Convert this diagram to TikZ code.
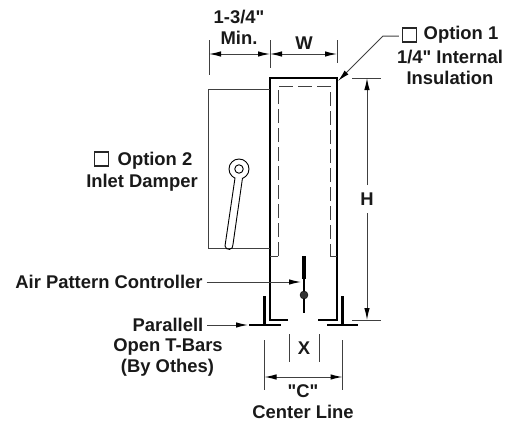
\documentclass[tikz,border=0pt]{standalone}
\usepackage{fontspec}
\newfontfamily\labelfont{Liberation Sans}
\usepackage{xcolor}
\usetikzlibrary{arrows.meta}
\definecolor{wire}{gray}{0.25}
\tikzset{
  label/.style={font=\labelfont\fontsize{18.4}{21.2}\selectfont\bfseries,align=center,text=black!90,inner sep=0pt},
  thin line/.style={wire,line width=1pt},
  wall/.style={black,line width=1.9pt},
  dim/.style={<->,wire,line width=1pt},
  lead/.style={->,wire,line width=1pt},
  check/.style={draw=black!85,line width=1.1pt,minimum size=14pt,inner sep=0pt},
  >={Latex[length=12pt,width=5.5pt,color=black]}
}
\begin{document}
\begin{tikzpicture}[x=1pt,y=-1pt]
\useasboundingbox (0,0) rectangle (515,423);
% labels
\node (A) at (239,27.5) [label] {1-3/4"\\Min.};
\node (B) at (304,43) [label] {W};
\node (C) at (461,35) [label] {Option 1};
\node (D) at (409.5,35) [check] {};
\node (E) at (450,67.5) [label] {1/4" Internal\\Insulation};
\node (F) at (155,161) [label] {Option 2};
\node (G) at (101.5,159) [check] {};
\node (H) at (142,182.5) [label] {Inlet Damper};
\node (I) at (109,281.5) [label] {Air Pattern Controller};
\node (J) at (168,325) [label] {Parallell};
\node (K) at (168,346.5) [label] {Open T-Bars};
\node (L) at (167.5,368) [label] {(By Othes)};
\node (M) at (304,348) [label] {X};
\node (N) at (303,401.5) [label] {"C"\\Center Line};
\node (P) at (367,199) [label] {H};
% housing
\coordinate (a1) at (288,320);
\coordinate (a2) at (270,320);
\coordinate (a3) at (270,78);
\coordinate (a4) at (337,78);
\coordinate (a5) at (337,320);
\coordinate (a6) at (318,320);
\draw[wall,line join=miter] (a1) -- (a2) -- (a3) -- (a4) -- (a5) -- (a6);
% insulation
\coordinate (b1) at (270,256);
\coordinate (b2) at (278,256);
\coordinate (b3) at (278,86);
\coordinate (b4) at (330,86);
\coordinate (b5) at (330,256);
\coordinate (b6) at (337,256);
\draw[thin line,dash pattern=on 14pt off 5pt] (b2) -- (b3) -- (b4) -- (b5);
\draw[thin line] (b1) -- (b2);
\draw[thin line] (b5) -- (b6);
% damper
\coordinate (c1) at (270,89);
\coordinate (c2) at (208,89);
\coordinate (c3) at (208,248);
\coordinate (c4) at (270,248);
\draw[thin line] (c1) -- (c2) -- (c3) -- (c4);
\node (Q) at (239,169) [circle,draw=black,line width=0.9pt,minimum size=20pt,inner sep=0pt] {};
\node (R) at (239,169) [circle,draw=black,line width=0.9pt,minimum size=8.5pt,inner sep=0pt] {};
\coordinate (d1) at (235,178);
\coordinate (d2) at (225,246);
\coordinate (d3) at (233,247);
\coordinate (d4) at (242.5,178);
\fill[white] (d1) -- (d2) -- (d3) -- (d4) -- cycle;
\draw[black,line width=0.9pt] (d1) -- (d2) arc[start angle=188,end angle=368,radius=4pt] -- (d4);
% t-bars
\coordinate (e1) at (249,325);
\coordinate (e2) at (281,325);
\coordinate (e3) at (264.5,296);
\coordinate (e4) at (264.5,325);
\coordinate (e5) at (327,325);
\coordinate (e6) at (358,325);
\coordinate (e7) at (342.5,296);
\coordinate (e8) at (342.5,325);
\draw[black,line width=2.8pt] (e1) -- (e2);
\draw[black,line width=2.8pt] (e3) -- (e4);
\draw[black,line width=2.8pt] (e5) -- (e6);
\draw[black,line width=2.8pt] (e7) -- (e8);
% controller
\coordinate (f1) at (304,256);
\coordinate (f2) at (304,279);
\coordinate (f3) at (304,313);
\draw[black,line width=3.8pt] (f1) -- (f2);
\draw[black,line width=1.6pt] (f2) -- (f3);
\node (S) at (304,295) [circle,fill=black!80,draw=black,minimum size=8pt,inner sep=0pt] {};
% dimensions
\coordinate (g1) at (209,40);
\coordinate (g2) at (209,75);
\coordinate (g3) at (270,40);
\coordinate (g4) at (270,68);
\coordinate (g5) at (337,40);
\coordinate (g6) at (337,63);
\draw[thin line] (g1) -- (g2);
\draw[thin line] (g3) -- (g4);
\draw[thin line] (g5) -- (g6);
\coordinate (h1) at (209,54);
\coordinate (h2) at (270,54);
\coordinate (h3) at (337,54);
\draw[dim] (h1) -- (h2);
\draw[dim] (h2) -- (h3);
\coordinate (i1) at (352,78);
\coordinate (i2) at (381,78);
\coordinate (i3) at (352,320);
\coordinate (i4) at (381,320);
\coordinate (i5) at (367,78);
\coordinate (i6) at (367,320);
\draw[thin line] (i1) -- (i2);
\draw[thin line] (i3) -- (i4);
\draw[lead] (P) ++(0,-14) -- (i5);
\draw[lead] (P) ++(0,14) -- (i6);
\coordinate (j1) at (289,334);
\coordinate (j2) at (289,362);
\coordinate (j3) at (319,334);
\coordinate (j4) at (319,362);
\draw[thin line] (j1) -- (j2);
\draw[thin line] (j3) -- (j4);
\coordinate (k1) at (264.5,340);
\coordinate (k2) at (264.5,390);
\coordinate (k3) at (342.5,340);
\coordinate (k4) at (342.5,390);
\coordinate (k5) at (264.5,377);
\coordinate (k6) at (342.5,377);
\draw[thin line] (k1) -- (k2);
\draw[thin line] (k3) -- (k4);
\draw[dim] (k5) -- (k6);
% leaders
\coordinate (m1) at (383,36);
\coordinate (m2) at (338,81);
\draw[lead] (D.west) ++(-3,1) -- (m1) -- (m2);
\coordinate (n1) at (301,282);
\coordinate (n2) at (248,325);
\draw[lead] (I.east) ++(4,0.5) -- (n1);
\draw[lead] (J.east) ++(4,0) -- (n2);
\end{tikzpicture}
\end{document}
